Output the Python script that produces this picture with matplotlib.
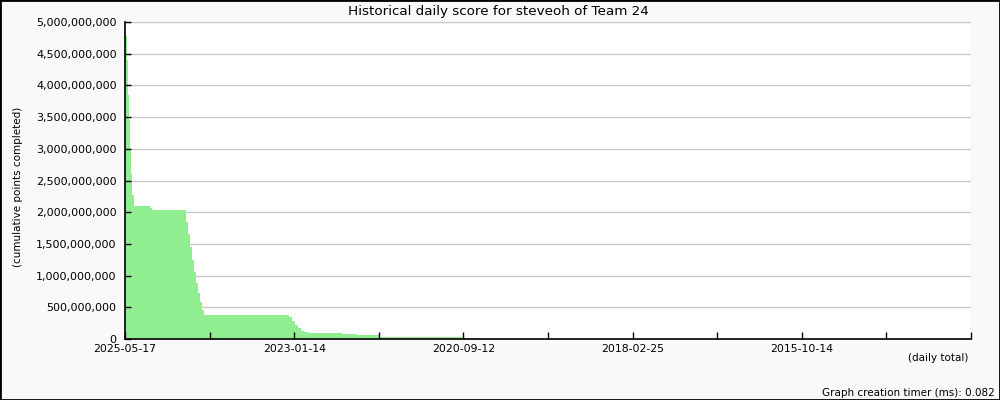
"""Historical daily score chart (cumulative points, newest date on the left)."""
import matplotlib

matplotlib.use("Agg")
import matplotlib.pyplot as plt  # noqa: E402
from matplotlib.ticker import FixedLocator, FuncFormatter  # noqa: E402

SPAN = 4270
TICK_STEP = 427

# position along the axis (days back from the newest record), cumulative score
days_ago = [0, 5, 10, 15, 20, 25, 30, 35, 45, 125, 135, 305, 310, 320, 330, 340, 350,
            360, 370, 380, 390, 399, 818, 830, 845, 860, 875, 890, 905, 924, 1096,
            1171, 1282, 1706, 1777, 3004, SPAN]
score = [4.83e9, 4.78e9, 4.40e9, 3.85e9, 3.45e9, 3.0e9, 2.6e9, 2.27e9, 2.09e9, 2.06e9,
         2.03e9, 2.03e9, 1.85e9, 1.65e9, 1.45e9, 1.25e9, 1.05e9, 0.88e9, 0.72e9, 0.58e9,
         0.45e9, 0.38e9, 0.38e9, 0.34e9, 0.28e9, 0.22e9, 0.17e9, 0.13e9, 0.11e9, 0.10e9,
         0.08e9, 0.06e9, 0.035e9, 0.02e9, 0.005e9, 0.0, 0.0]

x_tick_labels = ["2025-05-17", "", "2023-01-14", "", "2020-09-12", "",
                 "2018-02-25", "", "2015-10-14", "", ""]

BG = "#f9f9f9"
GREEN = "#90ee90"


def main():
    plt.rcParams["font.family"] = "DejaVu Sans"
    fig = plt.figure(figsize=(10, 4), dpi=100, facecolor=BG)
    fig.patches.append(plt.Rectangle((0, 0), 1, 1, transform=fig.transFigure,
                                     fill=False, edgecolor="black", lw=2))
    ax = fig.add_axes([0.125, 0.1525, 0.846, 0.7925])
    ax.set_facecolor("white")

    ax.set_xlim(0, SPAN)
    ax.set_ylim(0, 5e9)
    yticks = [i * 5e8 for i in range(11)]
    for v in yticks[1:]:
        ax.axhline(v, color="#c8c8c8", lw=1, zorder=0.5)

    ax.fill_between(days_ago, score, step="post", color=GREEN, lw=0, zorder=1)

    ax.xaxis.set_major_locator(FixedLocator([i * TICK_STEP for i in range(len(x_tick_labels))]))
    ax.set_xticklabels(x_tick_labels)
    ax.yaxis.set_major_locator(FixedLocator(yticks))
    ax.yaxis.set_major_formatter(FuncFormatter(lambda v, _p: f"{int(v):,}"))

    ax.spines["top"].set_visible(False)
    ax.spines["right"].set_visible(False)
    for s in ("left", "bottom"):
        ax.spines[s].set_color("black")
        ax.spines[s].set_linewidth(1.2)
        ax.spines[s].set_zorder(3)
    ax.tick_params(axis="y", direction="in", length=4, width=1, labelsize=8, pad=6)
    ax.tick_params(axis="x", direction="in", length=5, width=1, labelsize=7.8, pad=3.5)

    fig.text(0.498, 0.972, "Historical daily score for steveoh of Team 24",
             ha="center", va="center", fontsize=9.7)
    fig.text(0.018, 0.5325, "(cumulative points completed)", rotation=90,
             ha="center", va="center", fontsize=7.5)
    fig.text(0.968, 0.105, "(daily total)", ha="right", va="center", fontsize=7.5)
    fig.text(0.995, 0.017, "Graph creation timer (ms): 0.082", ha="right",
             va="center", fontsize=7.5)

    fig.savefig("out.png", dpi=100, facecolor=BG)


if __name__ == "__main__":
    main()
